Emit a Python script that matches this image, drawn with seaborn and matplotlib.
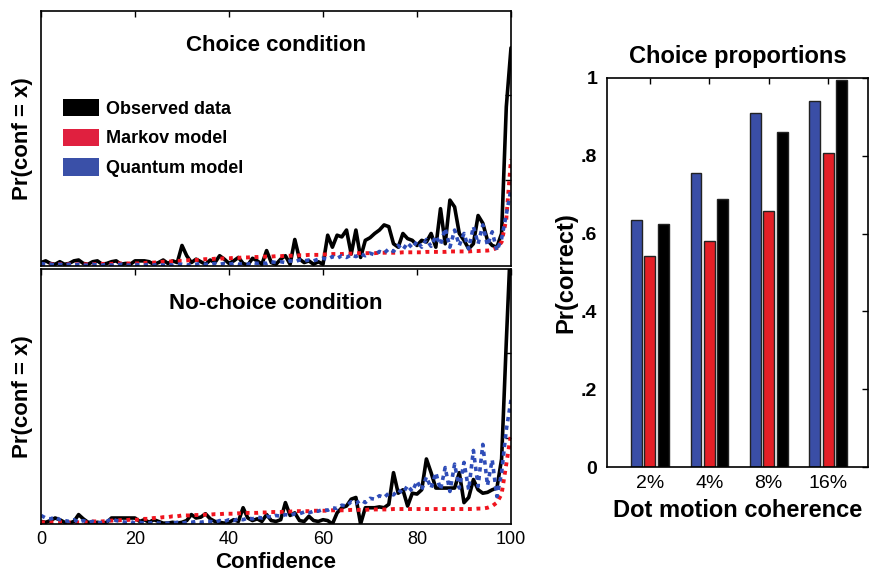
import numpy as np
import pandas as pd
import seaborn as sns
import matplotlib
matplotlib.use("Agg")
import matplotlib.pyplot as plt
from matplotlib.patches import Patch

# ---------------- data ----------------
confidence = list(range(101))

# Pr(conf = x) in percent, choice condition
choice_observed = [
    0.04, 0.06, 0.03, 0.02, 0.05, 0.02, 0.03, 0.06, 0.07, 0.03,
    0.02, 0.05, 0.06, 0.02, 0.03, 0.05, 0.06, 0.02, 0.03, 0.02,
    0.06, 0.06, 0.06, 0.05, 0.02, 0.04, 0.07, 0.03, 0.06, 0.04,
    0.24, 0.12, 0.04, 0.08, 0.05, 0.02, 0.07, 0.04, 0.12, 0.08,
    0.03, 0.06, 0.10, 0.03, 0.01, 0.09, 0.06, 0.02, 0.18, 0.04,
    0.02, 0.08, 0.12, 0.02, 0.31, 0.08, 0.04, 0.06, 0.02, 0.05,
    0.02, 0.36, 0.22, 0.36, 0.34, 0.42, 0.14, 0.42, 0.10, 0.30,
    0.33, 0.38, 0.42, 0.48, 0.46, 0.26, 0.22, 0.38, 0.32, 0.30,
    0.24, 0.30, 0.28, 0.38, 0.22, 0.67, 0.26, 0.77, 0.69, 0.38,
    0.30, 0.20, 0.26, 0.59, 0.50, 0.30, 0.24, 0.22, 0.38, 1.86,
    2.55]
choice_markov = [
    0.02, 0.02, 0.02, 0.02, 0.02, 0.02, 0.02, 0.02, 0.02, 0.02,
    0.02, 0.02, 0.025, 0.025, 0.025, 0.025, 0.03, 0.03, 0.03, 0.03,
    0.03, 0.03, 0.035, 0.04, 0.04, 0.045, 0.05, 0.05, 0.055, 0.06,
    0.06, 0.065, 0.07, 0.07, 0.075, 0.08, 0.08, 0.085, 0.085, 0.09,
    0.09, 0.095, 0.095, 0.10, 0.10, 0.105, 0.105, 0.11, 0.11, 0.11,
    0.115, 0.115, 0.12, 0.12, 0.12, 0.125, 0.125, 0.13, 0.13, 0.13,
    0.135, 0.135, 0.14, 0.14, 0.14, 0.145, 0.145, 0.15, 0.15, 0.15,
    0.15, 0.15, 0.155, 0.155, 0.155, 0.155, 0.155, 0.16, 0.16, 0.16,
    0.16, 0.16, 0.165, 0.165, 0.165, 0.165, 0.165, 0.17, 0.17, 0.17,
    0.17, 0.17, 0.175, 0.175, 0.18, 0.18, 0.19, 0.21, 0.28, 0.55,
    1.25]
choice_quantum = [
    0.03, 0.02, 0.02, 0.01, 0.02, 0.01, 0.02, 0.01, 0.02, 0.01,
    0.01, 0.02, 0.01, 0.01, 0.02, 0.01, 0.01, 0.02, 0.01, 0.01,
    0.02, 0.01, 0.01, 0.02, 0.01, 0.02, 0.01, 0.02, 0.01, 0.02,
    0.02, 0.01, 0.02, 0.02, 0.03, 0.02, 0.02, 0.03, 0.02, 0.03,
    0.02, 0.03, 0.02, 0.03, 0.02, 0.04, 0.03, 0.04, 0.03, 0.05,
    0.04, 0.05, 0.04, 0.06, 0.05, 0.07, 0.06, 0.07, 0.06, 0.08,
    0.09, 0.08, 0.11, 0.09, 0.12, 0.10, 0.13, 0.11, 0.14, 0.12,
    0.15, 0.13, 0.17, 0.15, 0.20, 0.17, 0.24, 0.19, 0.27, 0.21,
    0.29, 0.22, 0.31, 0.23, 0.35, 0.25, 0.44, 0.22, 0.42, 0.24,
    0.38, 0.20, 0.46, 0.26, 0.48, 0.24, 0.40, 0.18, 0.32, 0.60,
    0.90]

# Pr(conf = x) in percent, no-choice condition
nochoice_observed = [
    0.03, 0.02, 0.04, 0.07, 0.05, 0.02, 0.01, 0.03, 0.11, 0.06,
    0.02, 0.01, 0.02, 0.01, 0.02, 0.07, 0.07, 0.07, 0.07, 0.07,
    0.07, 0.03, 0.05, 0.02, 0.05, 0.03, 0.01, 0.01, 0.02, 0.01,
    0.02, 0.04, 0.11, 0.07, 0.08, 0.12, 0.06, 0.03, 0.02, 0.01,
    0.02, 0.05, 0.03, 0.19, 0.07, 0.04, 0.06, 0.03, 0.11, 0.04,
    0.03, 0.05, 0.25, 0.10, 0.13, 0.04, 0.03, 0.09, 0.04, 0.03,
    0.05, 0.04, 0.00, 0.13, 0.19, 0.21, 0.29, 0.31, 0.00, 0.19,
    0.19, 0.19, 0.20, 0.19, 0.23, 0.60, 0.36, 0.40, 0.21, 0.36,
    0.35, 0.40, 0.76, 0.60, 0.42, 0.42, 0.42, 0.42, 0.42, 0.60,
    0.25, 0.31, 0.52, 0.40, 0.36, 0.37, 0.40, 0.42, 0.76, 2.13,
    3.40]
nochoice_markov = [
    0.02, 0.02, 0.02, 0.02, 0.02, 0.02, 0.02, 0.02, 0.02, 0.02,
    0.02, 0.03, 0.03, 0.03, 0.035, 0.04, 0.04, 0.045, 0.045, 0.05,
    0.05, 0.05, 0.06, 0.06, 0.07, 0.07, 0.08, 0.08, 0.09, 0.09,
    0.10, 0.10, 0.10, 0.105, 0.105, 0.11, 0.11, 0.115, 0.115, 0.12,
    0.12, 0.12, 0.125, 0.125, 0.13, 0.13, 0.13, 0.135, 0.135, 0.14,
    0.14, 0.14, 0.145, 0.145, 0.15, 0.15, 0.15, 0.15, 0.155, 0.155,
    0.155, 0.155, 0.16, 0.16, 0.16, 0.16, 0.165, 0.165, 0.165, 0.165,
    0.17, 0.17, 0.17, 0.17, 0.17, 0.175, 0.175, 0.175, 0.175, 0.175,
    0.175, 0.175, 0.175, 0.175, 0.175, 0.175, 0.175, 0.175, 0.175, 0.175,
    0.175, 0.175, 0.175, 0.18, 0.18, 0.19, 0.21, 0.25, 0.35, 0.70,
    1.05]
nochoice_quantum = [
    0.10, 0.07, 0.06, 0.08, 0.05, 0.04, 0.03, 0.05, 0.02, 0.04,
    0.02, 0.03, 0.01, 0.02, 0.03, 0.06, 0.04, 0.03, 0.02, 0.03,
    0.01, 0.02, 0.01, 0.01, 0.02, 0.01, 0.01, 0.01, 0.01, 0.02,
    0.01, 0.02, 0.02, 0.03, 0.02, 0.03, 0.03, 0.02, 0.04, 0.03,
    0.05, 0.04, 0.06, 0.05, 0.07, 0.06, 0.08, 0.07, 0.09, 0.08,
    0.10, 0.09, 0.11, 0.10, 0.12, 0.12, 0.14, 0.13, 0.15, 0.15,
    0.17, 0.16, 0.19, 0.18, 0.22, 0.21, 0.26, 0.24, 0.28, 0.25,
    0.30, 0.29, 0.33, 0.31, 0.36, 0.34, 0.40, 0.36, 0.45, 0.38,
    0.50, 0.40, 0.55, 0.42, 0.60, 0.40, 0.66, 0.38, 0.70, 0.42,
    0.72, 0.40, 0.86, 0.44, 0.93, 0.45, 0.75, 0.32, 0.60, 1.10,
    1.45]

coherence = ["2%", "4%", "8%", "16%"]
pr_quantum = [0.635, 0.757, 0.910, 0.942]
pr_markov = [0.543, 0.580, 0.658, 0.806]
pr_observed = [0.625, 0.690, 0.860, 0.995]

legend_labels = ["Observed data", "Markov model", "Quantum model"]
panel_titles = ["Choice condition", "No-choice condition"]

# ---------------- style ----------------
sns.set_theme(style="white")
plt.rcParams["font.family"] = ["Liberation Sans", "DejaVu Sans"]
plt.rcParams["text.color"] = "black"
plt.rcParams["axes.labelcolor"] = "black"
plt.rcParams["xtick.color"] = "black"
plt.rcParams["ytick.color"] = "black"

C_BLACK = "#000000"
C_RED_LINE = "#f0141e"
C_BLUE_LINE = "#2f4db8"
C_RED_PATCH = "#e0203f"
C_BLUE_PATCH = "#3a50a8"
C_RED_BAR = "#e41f26"
C_BLUE_BAR = "#3a4ea6"

W, H = 870, 571
fig = plt.figure(figsize=(W / 100, H / 100), dpi=100)
ax1 = fig.add_axes([41 / W, 1 - 266 / H, 470 / W, 255 / H])
ax2 = fig.add_axes([41 / W, 1 - 524 / H, 470 / W, 255 / H])
ax3 = fig.add_axes([607 / W, 1 - 467 / H, 261 / W, 389 / H])

panels = [
    (ax1, choice_observed, choice_markov, choice_quantum, panel_titles[0]),
    (ax2, nochoice_observed, nochoice_markov, nochoice_quantum, panel_titles[1]),
]
for ax, obs, mark, quant, ttl in panels:
    sns.lineplot(x=confidence, y=obs, ax=ax, color=C_BLACK, linewidth=2.6)
    sns.lineplot(x=confidence, y=mark, ax=ax, color=C_RED_LINE, linewidth=2.8,
                 linestyle=(0, (1.0, 1.2)))
    sns.lineplot(x=confidence, y=quant, ax=ax, color=C_BLUE_LINE, linewidth=2.6,
                 linestyle=(0, (1.2, 1.2)))
    ax.set_xlim(0, 100)
    ax.set_ylim(0, 2.98)
    ax.set_xticks([0, 20, 40, 60, 80, 100])
    ax.set_yticks([1, 2])
    ax.tick_params(direction="in", top=True, right=True, length=4, width=1,
                   colors="black", labelleft=False, labelsize=13, pad=5)
    for s in ax.spines.values():
        s.set_color("black")
        s.set_linewidth(1.2)
    ax.text(0.5, 0.865, ttl, transform=ax.transAxes, ha="center", va="center",
            fontsize=16, fontweight="bold", color="black")
    ax.set_ylabel("Pr(conf = x)", fontsize=16, fontweight="bold")
    ax.yaxis.set_label_coords(-0.016, 0.5)

ax1.tick_params(labelbottom=False)
ax1.set_xlabel("")
ax2.set_xlabel("Confidence", fontsize=16, fontweight="bold", va="top")
ax2.xaxis.set_label_coords(0.5, -0.108)

handles = [Patch(facecolor=C_BLACK, edgecolor="none"),
           Patch(facecolor=C_RED_PATCH, edgecolor="none"),
           Patch(facecolor=C_BLUE_PATCH, edgecolor="none")]
ax1.legend(handles, legend_labels, loc="upper left",
           bbox_to_anchor=((63 - 41) / 470, (266 - 99) / 255),
           frameon=False, borderpad=0, borderaxespad=0,
           handlelength=2.0, handleheight=1.1, handletextpad=0.4,
           labelspacing=0.6, prop=dict(weight="bold", size=13))

# ---------------- bar chart ----------------
df = pd.DataFrame({
    "coherence": coherence * 3,
    "pr": pr_quantum + pr_markov + pr_observed,
    "model": ["Quantum"] * 4 + ["Markov"] * 4 + ["Observed"] * 4,
})
sns.barplot(data=df, x="coherence", y="pr", hue="model",
            hue_order=["Quantum", "Markov", "Observed"],
            palette=[C_BLUE_BAR, C_RED_BAR, C_BLACK], saturation=1,
            width=0.675, gap=0.18, edgecolor="#222222", linewidth=1,
            errorbar=None, legend=False, ax=ax3)
ax3.set_xlim(-0.724, 3.673)
ax3.set_ylim(0, 1)
ax3.set_yticks([0, 0.2, 0.4, 0.6, 0.8, 1.0])
ax3.set_yticklabels(["0", ".2", ".4", ".6", ".8", "1"], fontweight="bold")
ax3.tick_params(direction="in", top=True, right=True, length=4, width=1,
                colors="black", labelsize=14)
ax3.tick_params(axis="y", pad=7)
ax3.tick_params(axis="x", pad=6)
for s in ax3.spines.values():
    s.set_color("black")
    s.set_linewidth(1.2)
ax3.set_title("Choice proportions", fontsize=17, fontweight="bold", pad=11)
ax3.set_ylabel("Pr(correct)", fontsize=17, fontweight="bold")
ax3.yaxis.set_label_coords(-0.115, 0.5)
ax3.set_xlabel("Dot motion coherence", fontsize=17, fontweight="bold", va="top")
ax3.xaxis.set_label_coords(0.5, -0.082)

fig.savefig("out.png", dpi=100)
